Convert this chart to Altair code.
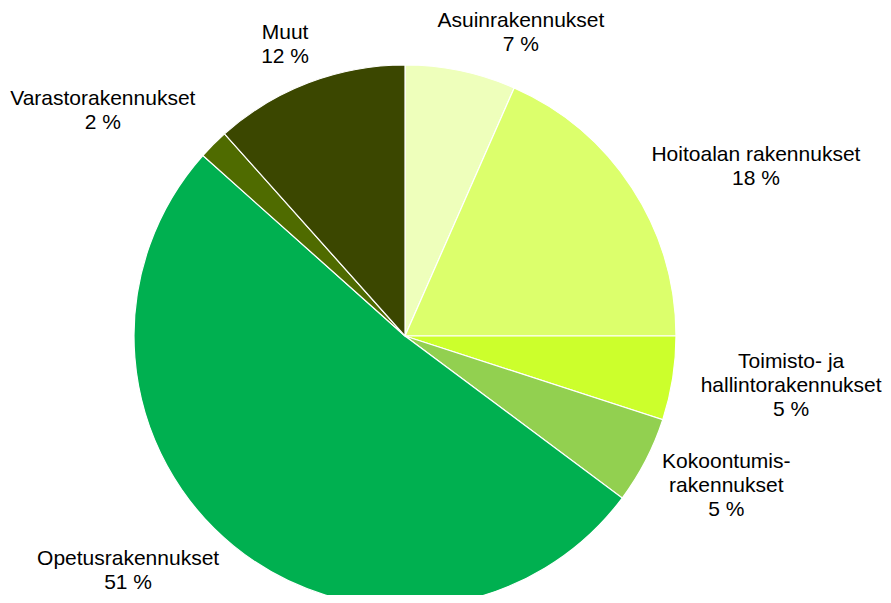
import math
import altair as alt
import pandas as pd

# ---- data ----
categories = [
    "Asuinrakennukset",
    "Hoitoalan rakennukset",
    "Toimisto- ja hallintorakennukset",
    "Kokoontumisrakennukset",
    "Opetusrakennukset",
    "Varastorakennukset",
    "Muut",
]
label_lines = [
    "Asuinrakennukset",
    "Hoitoalan rakennukset",
    "Toimisto- ja\nhallintorakennukset",
    "Kokoontumis-\nrakennukset",
    "Opetusrakennukset",
    "Varastorakennukset",
    "Muut",
]
shares = [6.6, 18.4, 5.0, 5.2, 51.4, 1.8, 11.6]

# ---- style / layout ----
colors = ["#EEFFBB", "#DCFF6C", "#CCFF2C", "#92D050", "#00B050", "#4F6B00", "#3B4700"]
label_angle_tweak_deg = [8.3, 5.8, -5.15, -6.0, 11.9, -6.9, -0.7]
label_radius_px = [336, 395, 387, 345, 355.6, 384, 326]
CX, CY, R = 397, 328, 271
FONT = "Liberation Sans"

df = pd.DataFrame({"category": categories, "value": shares, "idx": range(len(shares))})

total = sum(shares)
cum = 0.0
angs, texts = [], []
for v, tw, lab in zip(shares, label_angle_tweak_deg, label_lines):
    mid = (cum + v / 2) / total * 2 * math.pi
    angs.append(mid + math.radians(tw))
    texts.append(f"{lab}\n{round(v)} %")
    cum += v
lab_df = pd.DataFrame({"label": texts, "ang": angs, "rad": label_radius_px})

arcs = alt.Chart(df).mark_arc(outerRadius=R, stroke="white", strokeWidth=1.2).encode(
    theta=alt.Theta("value:Q", stack=True),
    color=alt.Color("category:N", scale=alt.Scale(domain=categories, range=colors), legend=None),
    order=alt.Order("idx:Q"),
    x=alt.value(CX),
    y=alt.value(CY),
)

labels = alt.Chart(lab_df).mark_text(
    font=FONT, fontSize=21, lineHeight=24, lineBreak="\n",
    align="center", baseline="middle", color="#000000",
).encode(
    theta=alt.Theta("ang:Q", scale=None, stack=None),
    radius=alt.Radius("rad:Q", scale=None),
    text="label:N",
    x=alt.value(CX),
    y=alt.value(CY),
)

chart = alt.layer(arcs, labels).properties(
    width=875, height=587, padding=0,
    autosize=alt.AutoSizeParams(type="fit", contains="padding"),
).configure_view(stroke=None)

chart.save("out.html", embed_options={"renderer": "svg", "actions": False})
